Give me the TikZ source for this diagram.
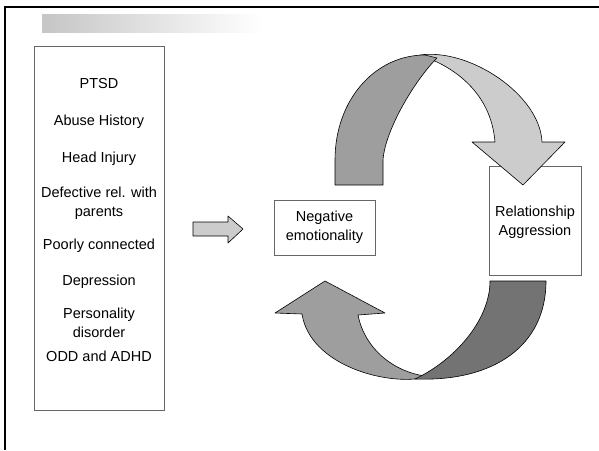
\documentclass[tikz,border=0pt]{standalone}
\usepackage{fontspec}
\setmainfont{Liberation Sans}
\definecolor{bandpale}{gray}{0.80}
\definecolor{bandmid}{gray}{0.62}
\definecolor{banddark}{gray}{0.45}

\begin{document}
\begin{tikzpicture}[x=1pt,y=-1pt,
  txt/.style={font=\fontsize{14.5}{19}\selectfont,align=center,inner sep=0pt},
  box/.style={draw=black!60,line width=0.8pt,inner sep=0pt},
  band/.style={draw=black,line width=0.6pt,line join=round}]
\useasboundingbox (0,0) rectangle (599,450);
\draw [line width=2pt] (5,450) -- (5,7) -- (599,7);
\shade [left color=gray!45,right color=white] (42,14) rectangle (262,32);

% list of factors
\node[box,minimum width=130pt,minimum height=364pt] (factors) at (99,228) {};
\node[txt] (ptsd) at (99,84) {PTSD};
\node[txt] (abuse) at (99,122) {Abuse History};
\node[txt] (head) at (99,159) {Head Injury};
\node[txt] (parents) at (99,203) {Defective rel. with\\parents};
\node[txt] (poorly) at (99,246) {Poorly connected};
\node[txt] (depr) at (99,282) {Depression};
\node[txt] (pers) at (99,323) {Personality\\disorder};
\node[txt] (odd) at (99,356) {ODD and ADHD};

% small arrow
\draw [band,fill=bandpale] (193,222) -- (228,222) -- (228,216) -- (243,229)
  -- (228,243) -- (228,236) -- (193,236) -- cycle;

\node[box,minimum width=101pt,minimum height=55pt] (neg) at (324.5,227.5) {};
\node[txt] (negtxt) at (neg) {Negative\\emotionality};
\node[box,minimum width=92pt,minimum height=109pt] (rel) at (535,220.5) {};
\node[txt] (reltxt) at (535,222) {Relationship\\Aggression};

% upper ribbon
\draw [band,fill=bandpale] (420,55) .. controls (470,48) and (540,95) .. (542,142)
  -- (565,142) -- (523,185) -- (472,142) -- (495,142)
  .. controls (492,105) and (470,78) .. (437,62) -- cycle;
\draw [band,fill=bandmid] (335,185) -- (335,160) .. controls (335,100) and (375,55) .. (425,55)
  -- (437,58) .. controls (415,80) and (385,130) .. (383,160) -- (383,185) -- cycle;

% lower ribbon
\draw [band,fill=bandmid] (422,378) .. controls (385,385) and (310,365) .. (302,314)
  -- (275,313) -- (325,281) -- (385,313) -- (358,315)
  .. controls (365,350) and (395,372) .. (425,376) -- cycle;
\draw [band,fill=banddark] (490,281) -- (546,281) .. controls (546,345) and (495,382) .. (415,379)
  .. controls (455,360) and (490,320) .. (490,281) -- cycle;
\end{tikzpicture}
\end{document}
